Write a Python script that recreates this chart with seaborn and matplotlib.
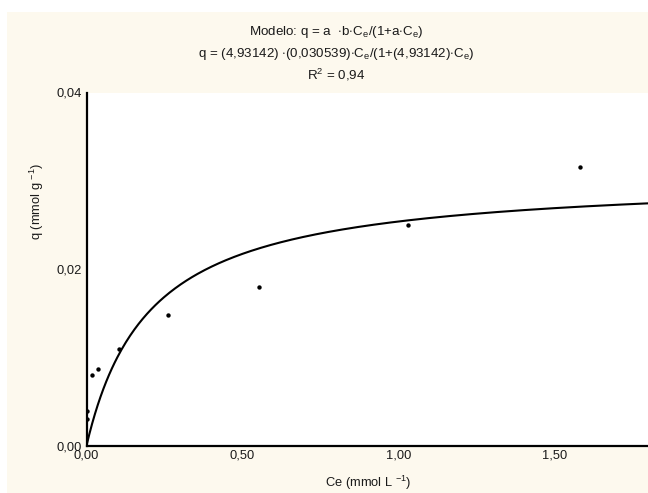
import numpy as np
import pandas as pd
import matplotlib
matplotlib.use("Agg")
import matplotlib.pyplot as plt
import seaborn as sns
from matplotlib.ticker import FuncFormatter
from matplotlib.patches import Rectangle

# Data
ce_obs = [0.0, 0.0, 0.018, 0.037, 0.103, 0.262, 0.552, 1.03, 1.581]
q_obs = [0.0030, 0.0039, 0.0080, 0.0087, 0.0109, 0.0148, 0.0180, 0.0250, 0.0316]

# Fitted model parameters (printed in the chart)
param_a = 4.93142
param_b = 0.030539

x_ticks = [0.0, 0.5, 1.0, 1.5]
y_ticks = [0.0, 0.02, 0.04]

title_lines = [
    r"Modelo: q = a  $\cdot$b$\cdot$C$_\mathregular{e}$/(1+a$\cdot$C$_\mathregular{e}$)",
    r"q = (4,93142) $\cdot$(0,030539)$\cdot$C$_\mathregular{e}$/(1+(4,93142)$\cdot$C$_\mathregular{e}$)",
    r"R$^\mathregular{2}$ = 0,94",
]
xlabel = r"Ce (mmol L $^\mathregular{-1}$)"
ylabel = r"q (mmol g $^\mathregular{-1}$)"

sns.set_theme(style="white")
plt.rcParams["font.family"] = ["Liberation Sans", "DejaVu Sans"]
plt.rcParams["mathtext.fontset"] = "custom"
plt.rcParams["mathtext.rm"] = "Liberation Sans"
plt.rcParams["mathtext.it"] = "Liberation Sans"

W, H = 648, 493
bg = "#fdf9ee"
txt = "#1a1a1a"
fig = plt.figure(figsize=(6.48, 4.93), dpi=100, facecolor="white")
fig.patches.append(Rectangle((7 / W, 0), 1 - 7 / W, 1 - 12 / H,
                             transform=fig.transFigure, facecolor=bg,
                             edgecolor="none", zorder=-10))
ax = fig.add_axes([86.5 / W, 1 - 445.7 / H, 1 - 86.5 / W, (445.7 - 92.5) / H])
ax.set_facecolor("white")

# Model curve
xfit = np.linspace(0, 1.8, 400)
yfit = param_a * param_b * xfit / (1 + param_a * xfit)
fit_df = pd.DataFrame({"Ce": xfit, "q": yfit})
sns.lineplot(data=fit_df, x="Ce", y="q", ax=ax, color="black", linewidth=1.5)

obs_df = pd.DataFrame({"Ce": ce_obs, "q": q_obs})
sns.scatterplot(data=obs_df, x="Ce", y="q", ax=ax, color="black", s=10,
                edgecolor="black", linewidth=0, zorder=3)

ax.set_xlim(0, 1.8)
ax.set_ylim(0, 0.04)
ax.set_xticks(x_ticks)
ax.set_yticks(y_ticks)
fmt = FuncFormatter(lambda v, p: f"{v:.2f}".replace(".", ","))
ax.xaxis.set_major_formatter(fmt)
ax.yaxis.set_major_formatter(fmt)
ax.tick_params(axis="both", direction="in", length=3, width=1, color="black",
               labelsize=9.3, labelcolor=txt, pad=3)
ax.set_xlabel("")
ax.set_ylabel("")

for s in ["top", "right"]:
    ax.spines[s].set_visible(False)
for s in ["left", "bottom"]:
    ax.spines[s].set_color("black")
    ax.spines[s].set_linewidth(1.6)

fig.text(368 / W, 1 - 483 / H, xlabel, ha="center", va="center",
         fontsize=9.3, color=txt)
fig.text(37 / W, 1 - 201 / H, ylabel, ha="center", va="center",
         rotation=90, fontsize=9.3, color=txt)

for i, (t, yy) in enumerate(zip(title_lines, [32, 54, 75])):
    fig.text(336 / W, 1 - yy / H, t, ha="center", va="center",
             fontsize=9.6, color=txt)

fig.savefig("out.png", dpi=100, facecolor="white")
